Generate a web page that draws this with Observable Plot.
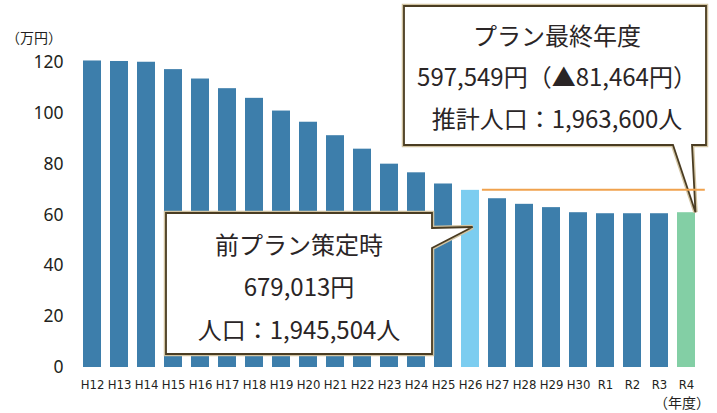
<!DOCTYPE html>
<html>
<head>
<meta charset="utf-8">
<script src="https://cdn.jsdelivr.net/npm/d3@7"></script>
<script src="https://cdn.jsdelivr.net/npm/@observablehq/plot@0.6"></script>
<style>
  html, body { margin: 0; padding: 0; background: #fff; }
  #chart svg { display: block; }
</style>
</head>
<body>
<div id="chart"></div>
<script>
// Fiscal years (x categories)
const years = ["H12","H13","H14","H15","H16","H17","H18","H19","H20","H21","H22","H23","H24","H25","H26","H27","H28","H29","H30","R1","R2","R3","R4"];
// Values in 万円
const values = [120.6,120.4,120.1,117.2,113.5,109.7,105.9,100.9,96.5,91.2,85.9,80.0,76.6,72.2,69.7,66.4,64.2,62.9,60.9,60.5,60.5,60.5,60.9];
// Bar categories: normal, previous plan (H26), final plan year (R4)
const kinds = years.map(y => y === "H26" ? "prev" : y === "R4" ? "final" : "normal");
const yTicks = [0, 20, 40, 60, 80, 100, 120];
const yUnit = "（万円）";
const xUnit = "（年度）";
const prevYear = "H26";
const finalYear = "R4";
const prevLines = ["前プラン策定時", "679,013円", "人口：1,945,504人"];
const finalLines = ["プラン最終年度", "597,549円（▲81,464円）", "推計人口：1,963,600人"];

const colors = {normal: "#3d7eab", prev: "#7ccdf0", final: "#83cfa5"};
const data = years.map((y, i) => ({year: y, value: values[i], kind: kinds[i]}));

const W = 717, H = 413;
const plot = Plot.plot({
  width: W,
  height: H,
  marginLeft: 64,
  marginRight: 3,
  marginTop: 62,
  marginBottom: 46,
  style: {fontFamily: "'Noto Sans', sans-serif", color: "#231f20", background: "#fff"},
  x: {domain: years, padding: 0.33, label: null},
  y: {domain: [0, 120], label: null},
  marks: [
    Plot.barY(data, {x: "year", y: "value", fill: d => colors[d.kind]}),
    Plot.axisY({ticks: yTicks, tickSize: 0, tickPadding: 1, fontSize: 17.5, label: null}),
    Plot.axisX({tickSize: 0, tickPadding: 12, fontSize: 13, label: null,
      fontFamily: "'Liberation Sans Narrow', 'DejaVu Sans Condensed', sans-serif"})
  ]
});

document.getElementById("chart").appendChild(plot);

const sx = plot.scale("x"), sy = plot.scale("y");
const x = d3.scaleBand(sx.domain, sx.range)
  .paddingInner(sx.paddingInner).paddingOuter(sx.paddingOuter).align(sx.align);
const y = d3.scaleLinear(sy.domain, sy.range);
const bw = x.bandwidth();
const svg = d3.select(plot);
const cjk = "'Noto Sans CJK JP', 'Noto Sans', sans-serif";

// unit labels
svg.append("text").attr("x", 6).attr("y", 38).attr("dy", "0.35em").attr("text-anchor", "start")
  .attr("font-family", cjk).attr("font-size", 14).attr("fill", "#231f20").text(yUnit);
svg.append("text").attr("x", 710).attr("y", 403).attr("dy", "0.35em").attr("text-anchor", "end")
  .attr("font-family", cjk).attr("font-size", 14).attr("fill", "#231f20").text(xUnit);

function callout(pathD, cx, lineYs, lines) {
  const g = svg.append("g");
  g.append("path").attr("d", pathD).attr("fill", "#fff")
    .attr("stroke", "#d2c4a2").attr("stroke-width", 4.5).attr("stroke-linejoin", "miter");
  g.append("path").attr("d", pathD).attr("fill", "#fff")
    .attr("stroke", "#4a3c22").attr("stroke-width", 1.8).attr("stroke-linejoin", "miter");
  lines.forEach((t, i) => {
    g.append("text").attr("x", cx).attr("y", lineYs[i]).attr("dy", "0.35em")
      .attr("text-anchor", "middle").attr("font-family", cjk).attr("font-size", 24)
      .attr("font-weight", 400).attr("fill", "#2a2526").text(t);
  });
}

// previous-plan callout, tail pointing into H26 bar
const tipPx = x(prevYear) + bw / 2;
const tipPy = 227;
callout(`M166,213 H432 V228 L${tipPx},${tipPy} L432,248 V354 H166 Z`, 299, [246, 288, 331], prevLines);

// final-year callout, tail pointing to top of R4 bar
const tipFx = x(finalYear) + bw / 2;
const tipFy = y(values[years.indexOf(finalYear)]);
callout(`M404,6 H706 V145 H692 L${tipFx},${tipFy} L673,145 H404 Z`, 557, [37, 78, 120], finalLines);

// reference line at the previous plan level
const refV = values[years.indexOf(prevYear)];
svg.append("line")
  .attr("x1", x(prevYear) + bw).attr("x2", x(finalYear) + bw)
  .attr("y1", y(refV)).attr("y2", y(refV))
  .attr("stroke", "#f0a24e").attr("stroke-width", 2);
</script>
</body>
</html>
